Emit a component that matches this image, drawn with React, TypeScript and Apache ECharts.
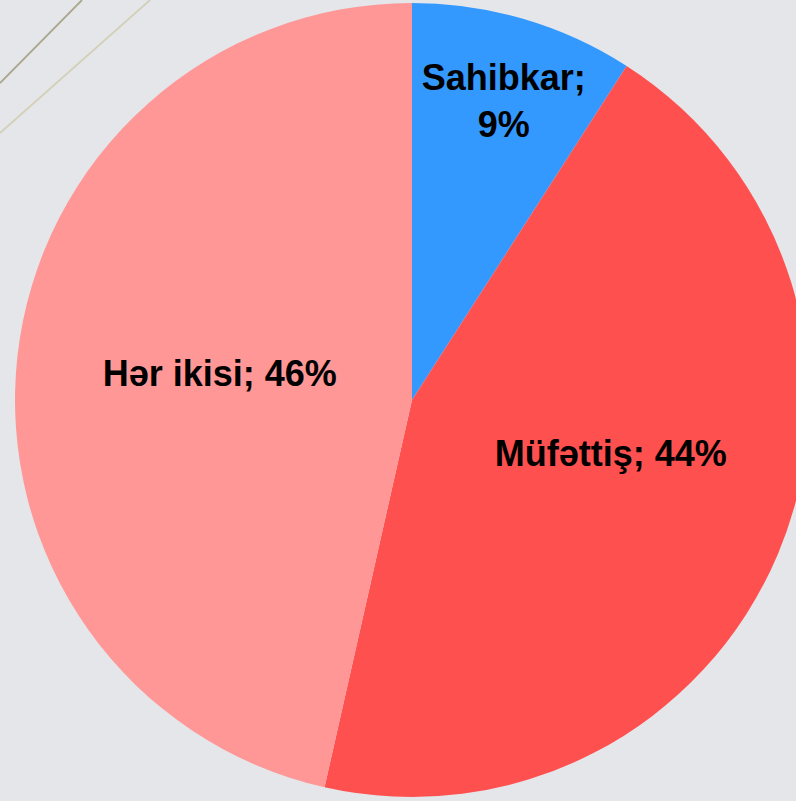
import React, { useEffect, useRef } from "react";
import * as echarts from "echarts";

const categories = ["Sahibkar", "Müfəttiş", "Hər ikisi"];
const values = [9, 44, 46];

const colors = ["#3399FF", "#FF5050", "#FF9797"];
const labelOffsets = [
  [35, -106],
  [13, -24],
  [8, -4],
];
const wrapLabel = [true, false, false];

export default function App() {
  const ref = useRef<HTMLDivElement>(null);
  useEffect(() => {
    document.body.style.margin = "0";
    const chart = echarts.init(ref.current!, null, { renderer: "svg" });
    const data = categories.map((name, i) => ({
      name,
      value: values[i],
      itemStyle: { color: colors[i] },
      label: {
        offset: labelOffsets[i],
        formatter: wrapLabel[i] ? "{b};\n{c}%" : "{b}; {c}%",
      },
    }));
    chart.setOption({
      animation: false,
      backgroundColor: "#E5E6EA",
      graphic: [
        {
          type: "line",
          z: -10,
          shape: { x1: 0, y1: 83, x2: 82, y2: 0 },
          style: { stroke: "#ABA68E", lineWidth: 1.8 },
        },
        {
          type: "line",
          z: -10,
          shape: { x1: 0, y1: 133, x2: 150, y2: 0 },
          style: { stroke: "#D3D0B8", lineWidth: 1.8 },
        },
      ],
      series: [
        {
          type: "pie",
          center: [412, 400],
          radius: 397,
          startAngle: 90,
          clockwise: true,
          itemStyle: { borderWidth: 0 },
          label: {
            show: true,
            position: "inside",
            color: "#000",
            fontFamily: "Liberation Sans, Arial, sans-serif",
            fontWeight: "bold",
            fontSize: 36,
            lineHeight: 47,
            align: "center",
          },
          labelLine: { show: false },
          emphasis: { disabled: true },
          data,
        },
      ],
    });
    return () => chart.dispose();
  }, []);
  return (
    <div
      ref={ref}
      style={{ position: "absolute", left: 0, top: 0, width: 796, height: 801 }}
    />
  );
}
